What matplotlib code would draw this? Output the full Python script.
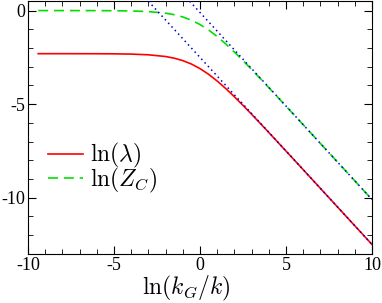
import numpy as np
import matplotlib
matplotlib.use('Agg')
import matplotlib.pyplot as plt
from matplotlib.ticker import MultipleLocator

plt.rcParams['font.family'] = ['Liberation Serif', 'DejaVu Serif']
plt.rcParams['mathtext.fontset'] = 'cm'
plt.rcParams['axes.unicode_minus'] = False

# values
x = [-9.4, -8, -6, -5, -4, -3, -2, -1.5, -1, -0.5, 0, 0.5, 1, 1.5, 2, 2.5,
     3, 3.5, 4, 5, 6, 8, 10]
ln_lambda = [-2.303, -2.303, -2.306, -2.311, -2.325, -2.362, -2.455, -2.543,
             -2.673, -2.856, -3.099, -3.404, -3.764, -4.168, -4.605, -5.065,
             -5.540, -6.024, -6.515, -7.506, -8.502, -10.500, -12.500]
ln_zc = [-0.0001, -0.0004, -0.0027, -0.0074, -0.020, -0.054, -0.139, -0.220,
         -0.341, -0.513, -0.744, -1.037, -1.387, -1.784, -2.216, -2.672,
         -3.144, -3.627, -4.116, -5.106, -6.102, -8.100, -10.100]
# asymptotes (dotted)
asym_x1 = [-3.0, 10]
asym_y1 = [0.5, -12.5]
asym_x2 = [-0.6, 10]
asym_y2 = [0.5, -10.1]

fig = plt.figure(figsize=(3.82, 3.03), dpi=100)
ax = fig.add_axes([0.073, 0.162, 0.901, 0.834])

ax.plot(x, ln_lambda, color='#ff0000', lw=1.2, label=r'$\ln(\lambda)$')
ax.plot(x, ln_zc, color='#00e000', lw=1.2, ls=(0, (6, 3.5)), label=r'$\ln(Z_C)$')
ax.plot(asym_x1, asym_y1, color='#0000cc', ls=(0, (1, 2.2)), lw=1.1, zorder=3)
ax.plot(asym_x2, asym_y2, color='#0000cc', ls=(0, (1, 2.2)), lw=1.1, zorder=3)

ax.set_xlim(-10, 10)
ax.set_ylim(-13, 0.5)
ax.xaxis.set_major_locator(MultipleLocator(5))
ax.xaxis.set_minor_locator(MultipleLocator(1))
ax.yaxis.set_major_locator(MultipleLocator(5))
ax.yaxis.set_minor_locator(MultipleLocator(1))
ax.tick_params(which='both', direction='in', top=True, right=True,
               labelsize=13, pad=2)
ax.tick_params(which='major', length=6)
ax.tick_params(which='minor', length=3.5)
ax.set_xlabel(r'$\ln(k_G/k)$', fontsize=17, labelpad=0)
ax.xaxis.label.set_x(0.46)

ax.legend(loc='center left', bbox_to_anchor=(0.03, 0.34), frameon=False,
          borderaxespad=0, fontsize=17, handlelength=1.5, handletextpad=0.3,
          labelspacing=-0.2)

fig.savefig('out.png', dpi=100)
